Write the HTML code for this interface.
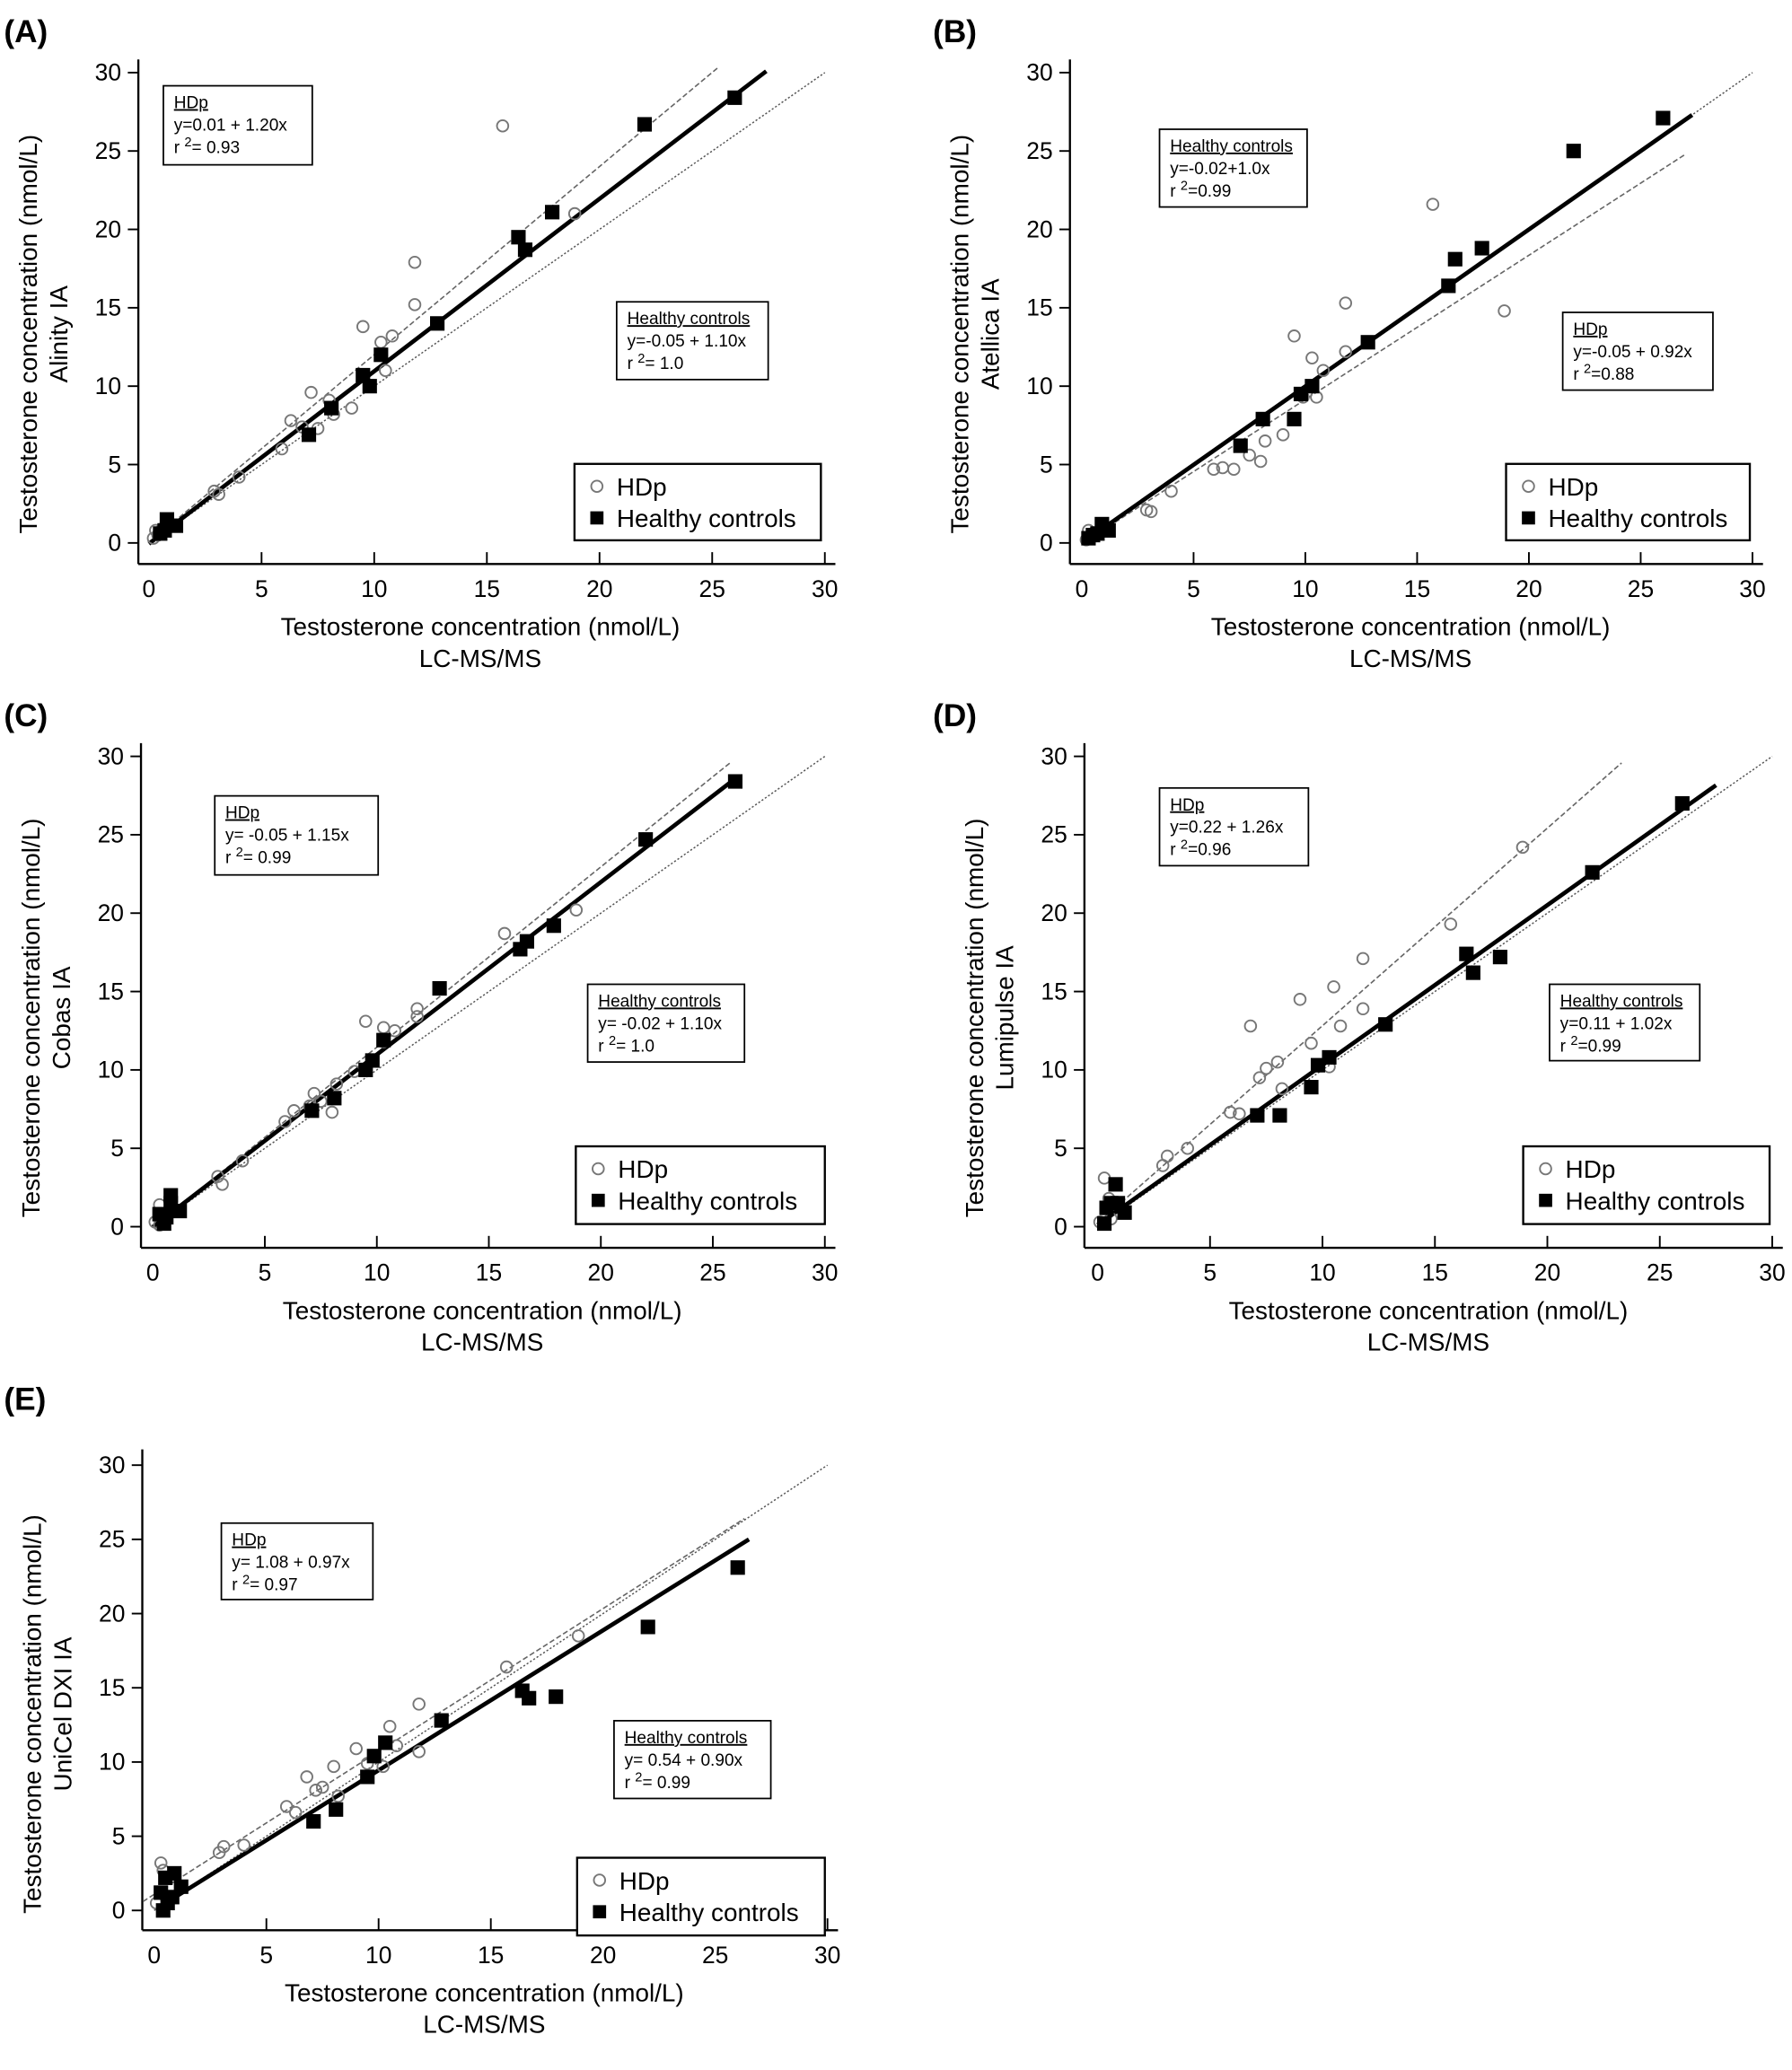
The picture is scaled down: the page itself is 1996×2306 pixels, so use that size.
<!DOCTYPE html>
<html><head><meta charset="utf-8"><style>html,body{margin:0;padding:0;background:#fff}svg{display:block}</style></head>
<body>
<svg id="s" xmlns="http://www.w3.org/2000/svg" width="1996" height="2306" viewBox="0 0 1360 1571" font-family="Liberation Sans, sans-serif"></svg>
<script>
const P=[
{lab:"(A)",lx:3,ly:32,x0:113,x30:626,y0:412,y30:55,ax:105,by:428,top:45,ylab:"Alinity IA",
 lines:[["dot",0,0,30,30],["dash",0,0.01,25.3,30.37],["thick",0,-0.05,27.4,30.09]],
 sq:[[7.1,6.9],[8.1,8.6],[9.5,10.7],[9.8,10],[10.3,12],[12.8,14],[16.4,19.5],[16.7,18.7],[17.9,21.1],[22,26.7],[26,28.4],[0.8,1.5],[1.2,1.1],[0.5,0.6],[0.7,0.8]],
 ci:[[15.7,26.6],[18.9,21],[11.8,17.9],[11.8,15.2],[9.5,13.8],[10.8,13.2],[10.3,12.8],[10.5,11],[7.2,9.6],[8,9.1],[6.3,7.8],[6.8,7.4],[7.5,7.3],[8.2,8.2],[9,8.6],[5.9,6],[2.9,3.3],[3.1,3.1],[4,4.2],[0.3,0.8],[0.2,0.3],[0.4,0.5],[0.6,0.9]],
 boxes:[[124,65,113,60,"HDp","y=0.01 + 1.20x","= 0.93"],[468,229,115,59,"Healthy controls","y=-0.05 + 1.10x","= 1.0"]],leg:[436,352,187,58]},
{lab:"(B)",lx:708,ly:32,x0:821,x30:1330,y0:412,y30:55,ax:812,by:428,top:45,ylab:"Atellica IA",
 lines:[["dot",0,0,30,30],["dash",0,-0.05,27,24.79],["thick",0,-0.02,27.3,27.3]],
 sq:[[26,27.1],[22,25],[17.9,18.8],[16.7,18.1],[16.4,16.4],[12.8,12.8],[10.3,10],[9.8,9.5],[9.5,7.9],[8.1,7.9],[7.1,6.2],[0.9,1.2],[1.2,0.8],[0.5,0.5],[0.3,0.3],[0.7,0.6]],
 ci:[[15.7,21.6],[11.8,15.3],[18.9,14.8],[9.5,13.2],[11.8,12.2],[10.3,11.8],[10.8,11],[10.5,9.3],[9.9,9.3],[9,6.9],[8.2,6.5],[7.5,5.6],[8,5.2],[5.9,4.7],[6.3,4.8],[6.8,4.7],[4,3.3],[2.9,2.1],[3.1,2],[0.2,0.2],[0.4,0.5],[0.3,0.8]],
 boxes:[[880,98,112,59,"Healthy controls","y=-0.02+1.0x","=0.99"],[1186,237,114,59,"HDp","y=-0.05 + 0.92x","=0.88"]],leg:[1143,352,185,58]},
{lab:"(C)",lx:3,ly:551,x0:116,x30:626,y0:931,y30:574,ax:107,by:947,top:564,ylab:"Cobas IA",
 lines:[["dot",0,0,30,30],["dash",0,-0.05,25.8,29.62],["thick",0,-0.02,26,28.58]],
 sq:[[26,28.4],[22,24.7],[17.9,19.2],[16.7,18.2],[16.4,17.7],[12.8,15.2],[10.3,11.9],[9.8,10.6],[9.5,10],[8.1,8.2],[7.1,7.4],[0.8,2],[0.8,1.5],[1.2,1],[0.5,0.2],[0.3,0.8],[0.6,0.6]],
 ci:[[15.7,18.7],[18.9,20.2],[11.8,13.9],[11.8,13.4],[9.5,13.1],[10.3,12.7],[10.8,12.5],[10.3,11.8],[7.2,8.5],[7,7.7],[7.5,8],[8.2,9.1],[8,7.3],[6.3,7.4],[5.9,6.7],[9,9.9],[2.9,3.2],[3.1,2.7],[4,4.2],[0.3,1.4],[0.1,0.3],[0.3,0.1]],
 boxes:[[163,604,124,60,"HDp","y= -0.05 + 1.15x","= 0.99"],[446,747,119,59,"Healthy controls","y= -0.02 + 1.10x","= 1.0"]],leg:[437,870,189,59]},
{lab:"(D)",lx:708,ly:551,x0:833,x30:1345,y0:931,y30:574,ax:823,by:947,top:564,ylab:"Lumipulse IA",
 lines:[["dot",0,0,30,30],["dash",0,0.22,23.3,29.58],["thick",0,0.11,27.5,28.16]],
 sq:[[26,27],[22,22.6],[17.9,17.2],[16.7,16.2],[16.4,17.4],[12.8,12.9],[10.3,10.8],[9.8,10.3],[9.5,8.9],[8.1,7.1],[7.1,7.1],[0.8,2.7],[0.3,0.2],[0.6,1.5],[1.2,0.9],[0.4,1.2],[0.9,1.5]],
 ci:[[18.9,24.2],[15.7,19.3],[11.8,17.1],[10.5,15.3],[9,14.5],[6.8,12.8],[11.8,13.9],[10.8,12.8],[9.5,11.7],[8,10.5],[7.5,10.1],[7.2,9.5],[8.2,8.8],[10.3,10.2],[5.9,7.3],[6.3,7.2],[4,5],[3.1,4.5],[2.9,3.9],[0.3,3.1],[0.5,1.8],[0.1,0.3],[0.6,0.5]],
 boxes:[[880,598,113,59,"HDp","y=0.22 + 1.26x","=0.96"],[1176,747,114,58,"Healthy controls","y=0.11 + 1.02x","=0.99"]],leg:[1156,870,187,59]},
{lab:"(E)",lx:3,ly:1070,x0:117,x30:628,y0:1450,y30:1112,ax:108,by:1465,top:1100,ylab:"UniCel DXI IA",
 lines:[["dot",0,0,30,30],["dash",-0.5,0.6,26.3,26.4],["thick",0.3,0.3,26.5,25]],
 sq:[[26,23.1],[22,19.1],[17.9,14.4],[16.7,14.3],[16.4,14.8],[12.8,12.8],[10.3,11.3],[9.8,10.4],[9.5,9],[8.1,6.8],[7.1,6],[0.9,2.5],[0.5,2.2],[0.4,0],[0.6,0.5],[1.2,1.6],[0.8,0.9],[0.3,1.2]],
 ci:[[18.9,18.5],[15.7,16.4],[11.8,13.9],[11.8,10.7],[10.5,12.4],[10.8,11.1],[10.2,9.7],[9,10.9],[9.5,9.9],[8,9.7],[6.8,9],[7.2,8.1],[7.5,8.3],[8.2,7.7],[5.9,7],[6.3,6.6],[4,4.4],[3.1,4.3],[2.9,3.9],[0.3,3.2],[0.4,2.7],[0.1,0.5]],
 boxes:[[168,1156,115,58,"HDp","y= 1.08 + 0.97x","= 0.97"],[466,1306,119,59,"Healthy controls","y= 0.54 + 0.90x","= 0.99"]],leg:[438,1410,188,59]}
];
let o="";
for(const p of P){
 const sx=(p.x30-p.x0)/30, sy=(p.y0-p.y30)/30;
 const X=v=>p.x0+v*sx, Y=v=>p.y0-v*sy;
 o+=`<text x="${p.lx}" y="${p.ly}" font-size="24" font-weight="bold">${p.lab}</text>`;
 o+=`<line x1="${p.ax}" y1="${p.top}" x2="${p.ax}" y2="${p.by}" stroke="#000" stroke-width="1.6"/>`;
 o+=`<line x1="${p.ax}" y1="${p.by}" x2="${X(30)+8}" y2="${p.by}" stroke="#000" stroke-width="1.6"/>`;
 for(let v=0;v<=30;v+=5){
  o+=`<line x1="${p.ax-8}" y1="${Y(v)}" x2="${p.ax}" y2="${Y(v)}" stroke="#000" stroke-width="1.3"/>`;
  o+=`<text x="${p.ax-13}" y="${Y(v)+6}" font-size="18" text-anchor="end">${v}</text>`;
  if(v>0)o+=`<line x1="${X(v)}" y1="${p.by-9}" x2="${X(v)}" y2="${p.by}" stroke="#000" stroke-width="1.3"/>`;
  o+=`<text x="${X(v)}" y="${p.by+25}" font-size="18" text-anchor="middle">${v}</text>`;
 }
 const cx=(p.x0+p.x30)/2-5, cy=(p.y0+p.y30)/2+20;
 o+=`<text x="${cx}" y="${p.by+54}" font-size="19" text-anchor="middle">Testosterone concentration (nmol/L)</text>`;
 o+=`<text x="${cx}" y="${p.by+78}" font-size="19" text-anchor="middle">LC-MS/MS</text>`;
 const tx=p.ax-77;
 o+=`<text transform="translate(${tx},${cy}) rotate(-90)" font-size="19" text-anchor="middle">Testosterone concentration (nmol/L)</text>`;
 o+=`<text transform="translate(${tx+23},${cy}) rotate(-90)" font-size="19" text-anchor="middle">${p.ylab}</text>`;
 for(const l of p.lines){
  const st=l[0]=="dot"?'stroke="#555" stroke-width="1" stroke-dasharray="1.5,1.5"':l[0]=="dash"?'stroke="#666" stroke-width="1.1" stroke-dasharray="4,2"':'stroke="#000" stroke-width="3.2"';
  o+=`<line x1="${X(l[1])}" y1="${Y(l[2])}" x2="${X(l[3])}" y2="${Y(l[4])}" ${st}/>`;
 }
 for(const c of p.ci)o+=`<circle cx="${X(c[0])}" cy="${Y(c[1])}" r="4.3" fill="none" stroke="#777" stroke-width="1.3"/>`;
 for(const s of p.sq)o+=`<rect x="${X(s[0])-5.5}" y="${Y(s[1])-5.5}" width="11" height="11" fill="#000"/>`;
 for(const b of p.boxes){
  o+=`<rect x="${b[0]}" y="${b[1]}" width="${b[2]}" height="${b[3]}" fill="#fff" stroke="#000" stroke-width="1.2"/>`;
  o+=`<text x="${b[0]+8}" y="${b[1]+17}" font-size="13" text-decoration="underline">${b[4]}</text>`;
  o+=`<text x="${b[0]+8}" y="${b[1]+34}" font-size="13">${b[5]}</text>`;
  o+=`<text x="${b[0]+8}" y="${b[1]+51}" font-size="13">r <tspan dy="-5" font-size="10">2</tspan><tspan dy="5">${b[6]}</tspan></text>`;
 }
 const g=p.leg;
 o+=`<rect x="${g[0]}" y="${g[1]}" width="${g[2]}" height="${g[3]}" fill="#fff" stroke="#000" stroke-width="1.6"/>`;
 o+=`<circle cx="${g[0]+17}" cy="${g[1]+17}" r="4.3" fill="none" stroke="#777" stroke-width="1.3"/>`;
 o+=`<text x="${g[0]+32}" y="${g[1]+24}" font-size="19">HDp</text>`;
 o+=`<rect x="${g[0]+12}" y="${g[1]+36}" width="10" height="10" fill="#000"/>`;
 o+=`<text x="${g[0]+32}" y="${g[1]+48}" font-size="19">Healthy controls</text>`;
}
document.getElementById("s").innerHTML=o;
</script>
</body></html>
